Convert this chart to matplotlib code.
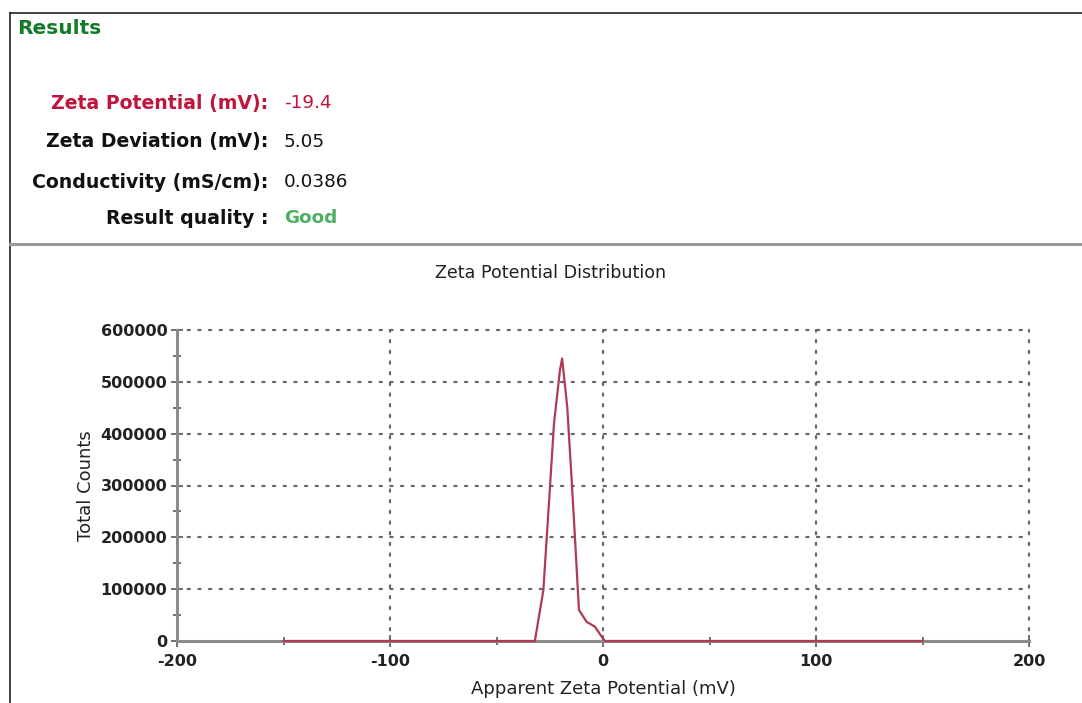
import matplotlib.pyplot as plt
from matplotlib.lines import Line2D
from matplotlib.ticker import MultipleLocator

# Zeta potential distribution (mV vs total counts)
zeta_mv = [-150, -60, -32, -28, -24.9, -23, -20.2, -19.2, -16.8, -14.7,
           -13.1, -11.3, -7.7, -3.8, -0.6, 0.9, 60, 150]
counts = [0, 0, 0, 98000, 297000, 420000, 523000, 545000, 452000, 310000,
          195000, 60000, 37000, 27600, 8300, 0, 0, 0]

result_labels = ["Zeta Potential (mV):", "Zeta Deviation (mV):",
                 "Conductivity (mS/cm):", "Result quality :"]
result_values = ["-19.4", "5.05", "0.0386", "Good"]
label_colors = ["#c0143c", "#111111", "#111111", "#111111"]
value_colors = ["#c0143c", "#111111", "#111111", "#4caf63"]

x_ticks = [-200, -100, 0, 100, 200]
y_ticks = [0, 100000, 200000, 300000, 400000, 500000, 600000]

W, H = 1082, 703
plt.rcParams['font.family'] = ['DejaVu Sans']
fig = plt.figure(figsize=(W / 100, H / 100), dpi=100)


def px(x, y):
    return x / W, 1 - y / H


# page frame
fig.add_artist(Line2D([10 / W, 10 / W], [1 - 13 / H, 0], color="#222222", lw=1.2))
fig.add_artist(Line2D([10 / W, 1], [1 - 13 / H, 1 - 13 / H], color="#222222", lw=1.2))
fig.add_artist(Line2D([10 / W, 1], [1 - 244 / H, 1 - 244 / H], color="#9a9a9a", lw=2.2))

fig.text(*px(17, 28), "Results", color="#137a2a", fontsize=14.5,
         fontweight="bold", va="center", ha="left")

rows_y = [103, 142, 182, 218]
for lab, val, lc, vc, ry in zip(result_labels, result_values, label_colors,
                                value_colors, rows_y):
    fig.text(*px(268, ry), lab, color=lc, fontsize=13.6, fontweight="bold",
             ha="right", va="center")
    fig.text(*px(284, ry), val, color=vc, fontsize=13.2,
             fontweight="bold" if val == "Good" else "normal",
             ha="left", va="center")

fig.text(*px(551, 273), "Zeta Potential Distribution", fontsize=12.6,
         ha="center", va="center", color="#222222")

ax = fig.add_axes([177 / W, 1 - 641 / H, (1029 - 177) / W, (641 - 330) / H])
ax.plot(zeta_mv, counts, color="#b03a52", lw=1.6, zorder=4, clip_on=False)

ax.set_xlim(-200, 200)
ax.set_ylim(0, 600000)
ax.set_xticks(x_ticks)
ax.set_yticks(y_ticks)
ax.xaxis.set_minor_locator(MultipleLocator(50))
ax.yaxis.set_minor_locator(MultipleLocator(50000))
ax.set_xticklabels([str(t) for t in x_ticks])
ax.set_yticklabels([str(t) for t in y_ticks])

for s in ["top", "right"]:
    ax.spines[s].set_visible(False)
for s in ["left", "bottom"]:
    ax.spines[s].set_color("#8c8c8c")
    ax.spines[s].set_linewidth(2.2)

dot = (0, (1, 3.8))
for yv in y_ticks[1:]:
    ax.axhline(yv, color="#666666", lw=1.6, ls=dot, dash_capstyle="round",
               zorder=1, clip_on=False)
for xv in x_ticks[1:]:
    ax.axvline(xv, color="#666666", lw=1.6, ls=dot, dash_capstyle="round",
               zorder=1, clip_on=False)

ax.tick_params(which="both", direction="inout", color="#666666", width=1.3,
               labelsize=11.5, labelcolor="#222222")
ax.tick_params(which="major", length=8)
ax.tick_params(which="minor", length=6)
ax.tick_params(axis="x", pad=5)
ax.tick_params(axis="y", pad=3)
for lbl in ax.get_xticklabels() + ax.get_yticklabels():
    lbl.set_fontweight("bold")

ax.set_xlabel("Apparent Zeta Potential (mV)", fontsize=13, color="#222222", labelpad=8)
ax.set_ylabel("Total Counts", fontsize=13, color="#222222", labelpad=4)

fig.savefig("out.png", dpi=100)
